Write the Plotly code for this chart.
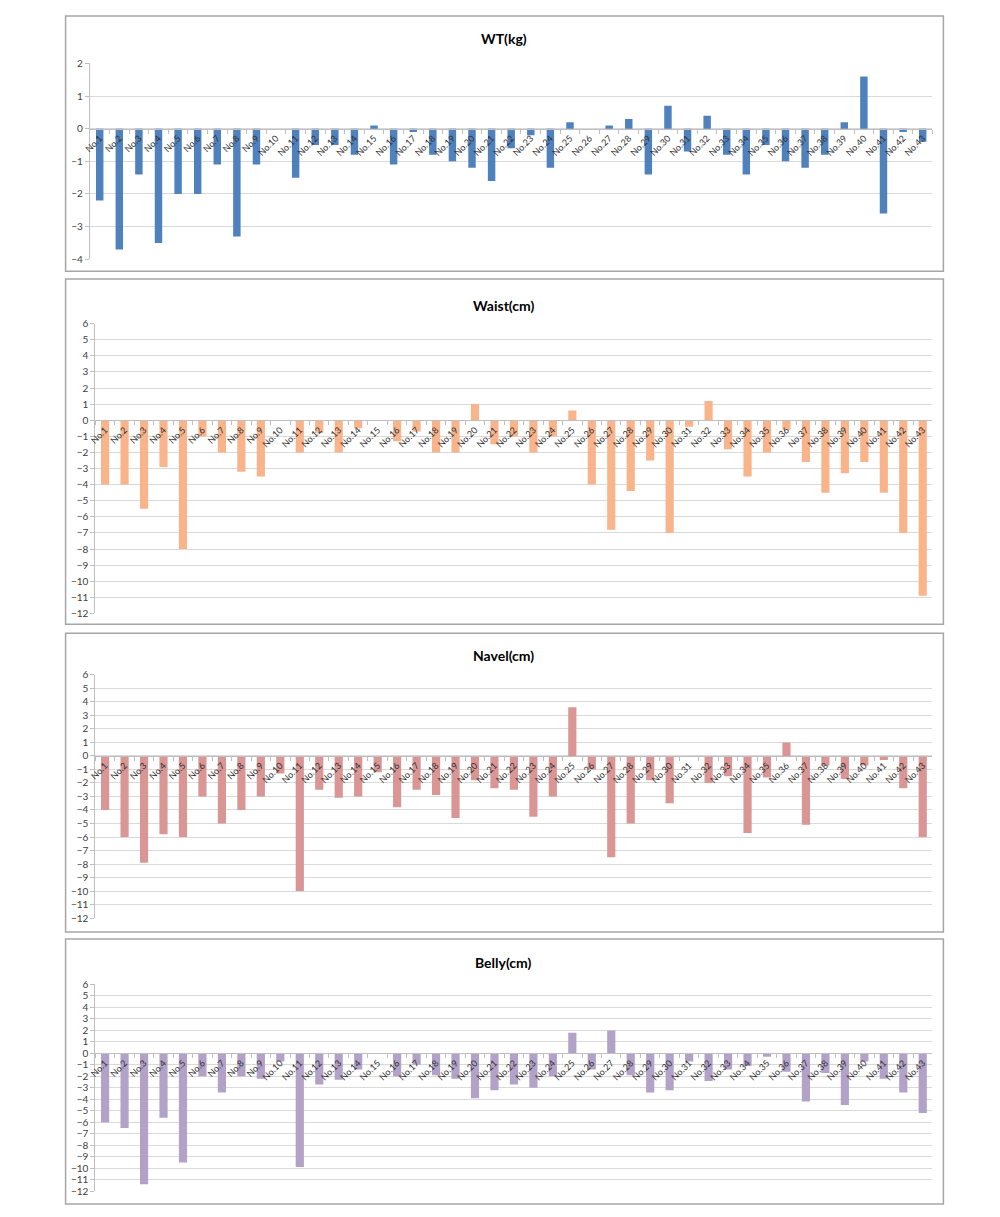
import plotly.graph_objects as go

categories = ["No.1", "No.2", "No.3", "No.4", "No.5", "No.6", "No.7", "No.8", "No.9", "No.10",
              "No.11", "No.12", "No.13", "No.14", "No.15", "No.16", "No.17", "No.18", "No.19", "No.20",
              "No.21", "No.22", "No.23", "No.24", "No.25", "No.26", "No.27", "No.28", "No.29", "No.30",
              "No.31", "No.32", "No.33", "No.34", "No.35", "No.36", "No.37", "No.38", "No.39", "No.40",
              "No.41", "No.42", "No.43"]

wt_kg = [-2.2, -3.7, -1.4, -3.5, -2.0, -2.0, -1.1, -3.3, -1.1, 0.0,
         -1.5, -0.5, -0.5, -0.8, 0.1, -1.1, -0.1, -0.8, -1.0, -1.2,
         -1.6, -0.6, -0.2, -1.2, 0.2, 0.0, 0.1, 0.3, -1.4, 0.7,
         -0.7, 0.4, -0.8, -1.4, -0.5, -1.0, -1.2, -0.8, 0.2, 1.6,
         -2.6, -0.1, -0.4]

waist_cm = [-4.0, -4.0, -5.5, -2.9, -8.0, -1.0, -2.0, -3.2, -3.5, 0.0,
            -2.0, -0.8, -2.0, -0.5, 0.0, -1.3, -0.7, -2.0, -2.0, 1.0,
            -1.5, -1.0, -2.0, -1.0, 0.6, -4.0, -6.8, -4.4, -2.5, -7.0,
            -0.4, 1.2, -1.8, -3.5, -2.0, -0.6, -2.6, -4.5, -3.3, -2.6,
            -4.5, -7.0, -10.9]

navel_cm = [-4.0, -6.0, -7.9, -5.8, -6.0, -3.0, -5.0, -4.0, -3.0, -1.3,
            -10.0, -2.5, -3.1, -3.0, -1.2, -3.8, -2.5, -2.9, -4.6, -1.8,
            -2.4, -2.5, -4.5, -3.0, 3.6, -1.0, -7.5, -5.0, -1.8, -3.5,
            0.0, -2.0, -1.5, -5.7, -1.6, 1.0, -5.1, -0.7, -1.7, -0.7,
            -0.3, -2.4, -6.0]

belly_cm = [-6.0, -6.5, -11.4, -5.6, -9.5, -2.0, -3.4, -2.0, -2.2, -0.7,
            -9.9, -2.7, -2.3, -1.4, 0.0, -2.0, -1.0, -1.9, -2.2, -3.9,
            -3.2, -2.7, -3.0, -2.0, 1.8, -1.4, 2.0, -1.9, -3.4, -3.2,
            -0.7, -2.4, -1.4, -1.1, -0.3, -1.6, -4.2, -1.7, -4.5, -0.7,
            -2.2, -3.4, -5.2]

titles = ["WT(kg)", "Waist(cm)", "Navel(cm)", "Belly(cm)"]
series = [wt_kg, waist_cm, navel_cm, belly_cm]
y_ranges = [(-4, 2), (-12, 6), (-12, 6), (-12, 6)]

# layout (pixels of a 1000x1217 page)
W, H = 1000, 1217
colors = ["#4F81BD", "#FAB48C", "#D99694", "#B3A2C7"]
bar_widths = [0.38, 0.42, 0.42, 0.42]
boxes = [(59, 9, 943, 267), (59, 275, 943, 624), (59, 633, 943, 935), (59, 942, 943, 1210)]
plots = [(83.5, 57, 932, 255), (89, 320, 932, 613), (89, 675, 932, 921), (89, 988, 932, 1197)]
title_y = [32, 302, 656, 966]

def px_x(v):
    return v / W

def px_y(v):
    return 1 - v / H

fig = go.Figure()
layout = dict(
    autosize=True,
    margin=dict(l=0, r=0, t=0, b=0, pad=0),
    paper_bgcolor="white", plot_bgcolor="white",
    showlegend=False,
    font=dict(family="Lato, 'Open Sans', sans-serif", color="#404040"),
    shapes=[], annotations=[],
)

for i in range(4):
    n = i + 1
    xa = "x" if n == 1 else f"x{n}"
    ya = "y" if n == 1 else f"y{n}"
    fig.add_trace(go.Bar(
        x=categories, y=series[i], xaxis=xa, yaxis=ya,
        marker=dict(color=colors[i], line=dict(width=0)),
        width=bar_widths[i],
    ))
    x0, y0, x1, y1 = plots[i]
    ymin, ymax = y_ranges[i]
    ydom = [px_y(y1), px_y(y0)]
    zero_pos = ydom[0] + (0 - ymin) / (ymax - ymin) * (ydom[1] - ydom[0])
    layout["xaxis" if n == 1 else f"xaxis{n}"] = dict(
        domain=[px_x(x0), px_x(x1)], anchor="free", position=zero_pos,
        type="category", tickangle=-45, showgrid=False,
        showline=True, linecolor="#BFBFBF", linewidth=1,
        ticks="outside", tickson="boundaries", ticklen=4, tickcolor="#BFBFBF",
        tickfont=dict(size=9, color="#303030"),
        range=[-0.5, len(categories) - 0.5], fixedrange=True,
    )
    layout["yaxis" if n == 1 else f"yaxis{n}"] = dict(
        domain=ydom, anchor=xa, range=[ymin, ymax], dtick=1,
        showgrid=True, gridcolor="#D9D9D9", gridwidth=1,
        zeroline=False, showline=True, linecolor="#BFBFBF",
        ticks="outside", ticklen=4, tickcolor="#BFBFBF",
        tickfont=dict(size=10, color="#404040"), fixedrange=True,
    )
    bx0, by0, bx1, by1 = boxes[i]
    layout["shapes"].append(dict(
        type="rect", xref="paper", yref="paper",
        x0=px_x(bx0), x1=px_x(bx1), y0=px_y(by1), y1=px_y(by0),
        line=dict(color="#A6A6A6", width=1.5), fillcolor="rgba(0,0,0,0)", layer="below",
    ))
    layout["annotations"].append(dict(
        text=f"<b>{titles[i]}</b>", xref="paper", yref="paper",
        x=0.5, y=px_y(title_y[i]), xanchor="center", yanchor="middle",
        showarrow=False, font=dict(size=14, color="#000000"),
    ))

fig.update_layout(**layout)
fig.write_html(
    "out.html",
    default_width="100vw",
    default_height="100vh",
    config={"displayModeBar": False, "responsive": True},
    post_script="document.body.style.margin='0';document.body.style.overflow='hidden';window.dispatchEvent(new Event('resize'));",
)
